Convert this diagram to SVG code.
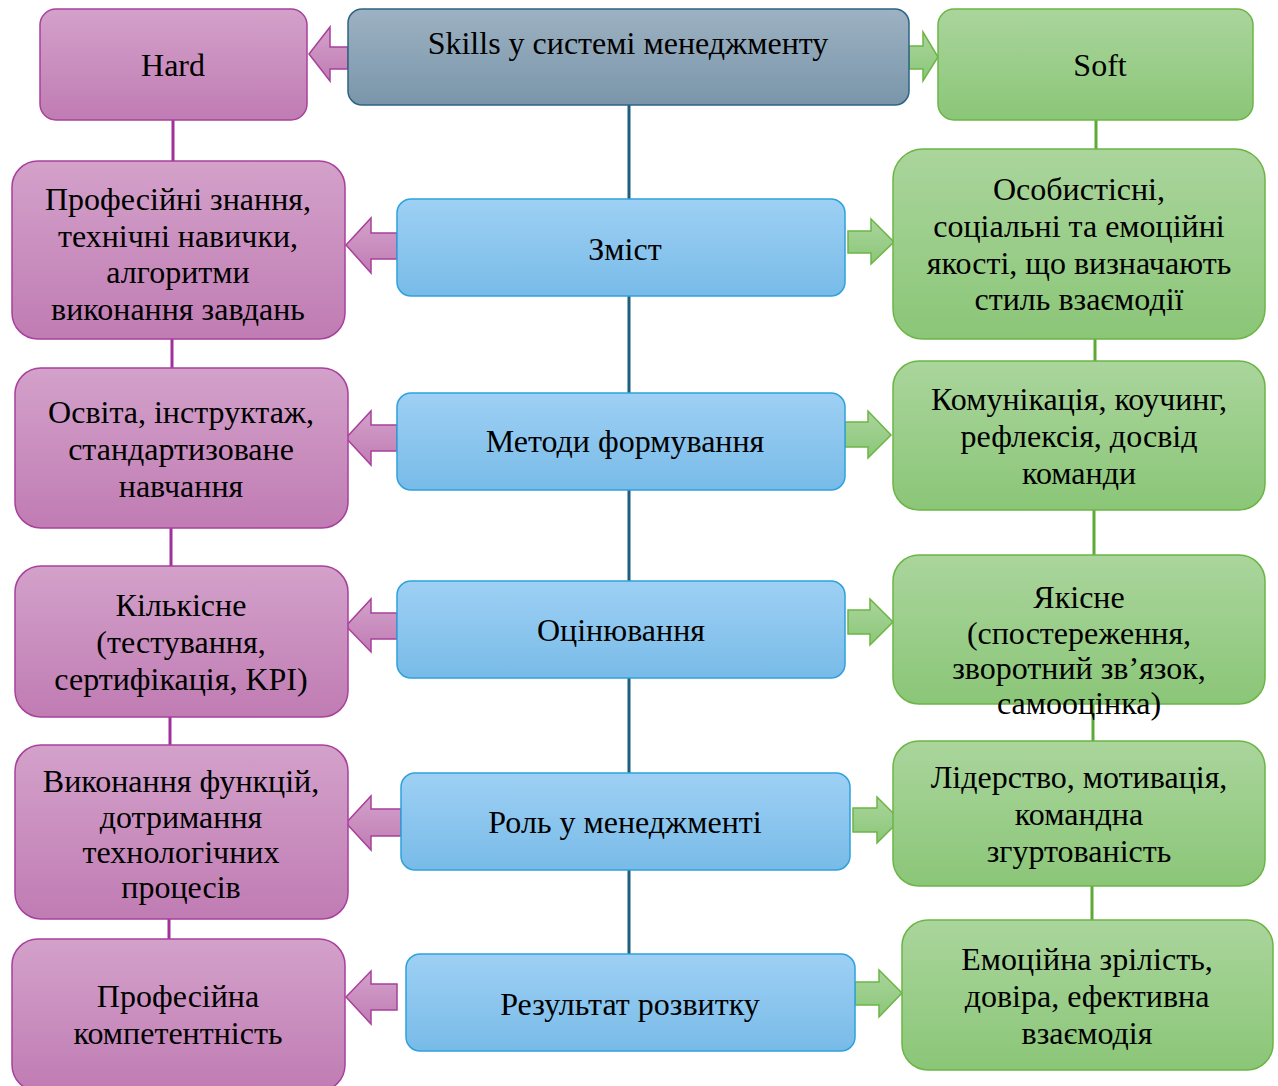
<svg xmlns="http://www.w3.org/2000/svg" width="1278" height="1086" viewBox="0 0 1278 1086">
<defs>
<linearGradient id="gP" x1="0" y1="0" x2="0" y2="1"><stop offset="0" stop-color="#d3a1ca"/><stop offset="1" stop-color="#c07cb3"/></linearGradient>
<linearGradient id="gB" x1="0" y1="0" x2="0" y2="1"><stop offset="0" stop-color="#9ed0f4"/><stop offset="1" stop-color="#78bbe8"/></linearGradient>
<linearGradient id="gG" x1="0" y1="0" x2="0" y2="1"><stop offset="0" stop-color="#aad59c"/><stop offset="1" stop-color="#8bc678"/></linearGradient>
<linearGradient id="gT" x1="0" y1="0" x2="0" y2="1"><stop offset="0" stop-color="#9db2c2"/><stop offset="1" stop-color="#7a95aa"/></linearGradient>
</defs>
<style>
.p{fill:url(#gP);stroke:#a8409c;stroke-width:1.5}
.b{fill:url(#gB);stroke:#2ea2da;stroke-width:1.5}
.g{fill:url(#gG);stroke:#6cb545;stroke-width:1.5}
.t{fill:url(#gT);stroke:#2d6484;stroke-width:1.5}
text{font-family:"Liberation Serif","Times New Roman",serif;font-size:32px;fill:#000;text-anchor:middle}
.lp{stroke:#a0309a;stroke-width:3;fill:none}
.lg{stroke:#5caa35;stroke-width:3;fill:none}
.lt{stroke:#1d5f7e;stroke-width:3;fill:none}
</style>
<g id="connectors">
<path class="lt" d="M629 105 V954"/>
<path class="lp" d="M173 120 V161 M172 339 V368 M171 528 V566 M170 717 V745 M169 919 V939"/>
<path class="lg" d="M1096 120 V149 M1095 339 V361 M1094 510 V555 M1093 704 V741 M1092 886 V920"/>
<path class="p" d="M348 47 H330 V27 L309 54 L330 81 V69 H348 Z"/>
<path class="g" d="M909 46 H923 V32 L938 57 L923 81 V69 H909 Z"/>
<path class="p" d="M397 233 H371 V218 L346 245 L371 273 V259 H397 Z"/>
<path class="g" d="M848 231 H871 V219 L894 242 L871 264 V253 H848 Z"/>
<path class="p" d="M397 425 H371 V411 L346 438 L371 465 V451 H397 Z"/>
<path class="g" d="M845 422 H868 V411 L891 435 L868 458 V447 H845 Z"/>
<path class="p" d="M397 613 H371 V599 L346 626 L371 652 V639 H397 Z"/>
<path class="g" d="M848 610 H870 V599 L893 622 L870 645 V634 H848 Z"/>
<path class="p" d="M401 809 H371 V796 L346 823 L371 850 V836 H401 Z"/>
<path class="g" d="M853 808 H877 V797 L900 820 L877 843 V832 H853 Z"/>
<path class="p" d="M397 984 H371 V971 L346 997 L371 1024 V1010 H397 Z"/>
<path class="g" d="M855 982 H879 V970 L902 993 L879 1017 V1005 H855 Z"/>
</g>
<g id="top"><rect class="t" x="348" y="9" width="561" height="96" rx="14"/><text x="628" y="54">Skills у системі менеджменту</text></g>
<g id="hard"><rect class="p" x="40" y="9" width="267" height="111" rx="16"/><text x="173" y="76">Hard</text></g>
<g id="soft"><rect class="g" x="938" y="9" width="315" height="111" rx="16"/><text x="1100" y="76">Soft</text></g>

<g id="zmist"><rect class="b" x="397" y="199" width="448" height="97" rx="14"/><text x="625" y="260">Зміст</text></g>
<g id="metody"><rect class="b" x="397" y="393" width="448" height="97" rx="14"/><text x="625" y="452">Методи формування</text></g>
<g id="otsin"><rect class="b" x="397" y="581" width="448" height="97" rx="14"/><text x="621" y="641">Оцінювання</text></g>
<g id="rol"><rect class="b" x="401" y="773" width="449" height="97" rx="14"/><text x="625" y="833">Роль у менеджменті</text></g>
<g id="rezult"><rect class="b" x="406" y="954" width="449" height="97" rx="14"/><text x="630" y="1015">Результат розвитку</text></g>

<g id="h1"><rect class="p" x="12" y="161" width="333" height="178" rx="26"/><text x="178" y="210">Професійні знання,</text><text x="178" y="247">технічні навички,</text><text x="178" y="283">алгоритми</text><text x="178" y="320">виконання завдань</text></g>
<g id="h2"><rect class="p" x="15" y="368" width="333" height="160" rx="26"/><text x="181" y="423">Освіта, інструктаж,</text><text x="181" y="460">стандартизоване</text><text x="181" y="497">навчання</text></g>
<g id="h3"><rect class="p" x="15" y="566" width="333" height="151" rx="26"/><text x="181" y="616">Кількісне</text><text x="181" y="653">(тестування,</text><text x="181" y="690">сертифікація, KPI)</text></g>
<g id="h4"><rect class="p" x="15" y="745" width="333" height="174" rx="26"/><text x="181" y="792">Виконання функцій,</text><text x="181" y="828">дотримання</text><text x="181" y="863">технологічних</text><text x="181" y="898">процесів</text></g>
<g id="h5"><rect class="p" x="12" y="939" width="333" height="152" rx="26"/><text x="178" y="1007">Професійна</text><text x="178" y="1044">компетентність</text></g>

<g id="s1"><rect class="g" x="893" y="149" width="372" height="190" rx="30"/><text x="1079" y="200">Особистісні,</text><text x="1079" y="237">соціальні та емоційні</text><text x="1079" y="274">якості, що визначають</text><text x="1079" y="310">стиль взаємодії</text></g>
<g id="s2"><rect class="g" x="893" y="361" width="372" height="149" rx="26"/><text x="1079" y="410">Комунікація, коучинг,</text><text x="1079" y="447">рефлексія, досвід</text><text x="1079" y="484">команди</text></g>
<g id="s3"><rect class="g" x="893" y="555" width="372" height="149" rx="26"/><text x="1079" y="608">Якісне</text><text x="1079" y="644">(спостереження,</text><text x="1079" y="679">зворотний зв’язок,</text><text x="1079" y="714">самооцінка)</text></g>
<g id="s4"><rect class="g" x="893" y="741" width="372" height="145" rx="26"/><text x="1079" y="788">Лідерство, мотивація,</text><text x="1079" y="825">командна</text><text x="1079" y="862">згуртованість</text></g>
<g id="s5"><rect class="g" x="902" y="920" width="371" height="150" rx="26"/><text x="1087" y="970">Емоційна зрілість,</text><text x="1087" y="1007">довіра, ефективна</text><text x="1087" y="1044">взаємодія</text></g>
</svg>
